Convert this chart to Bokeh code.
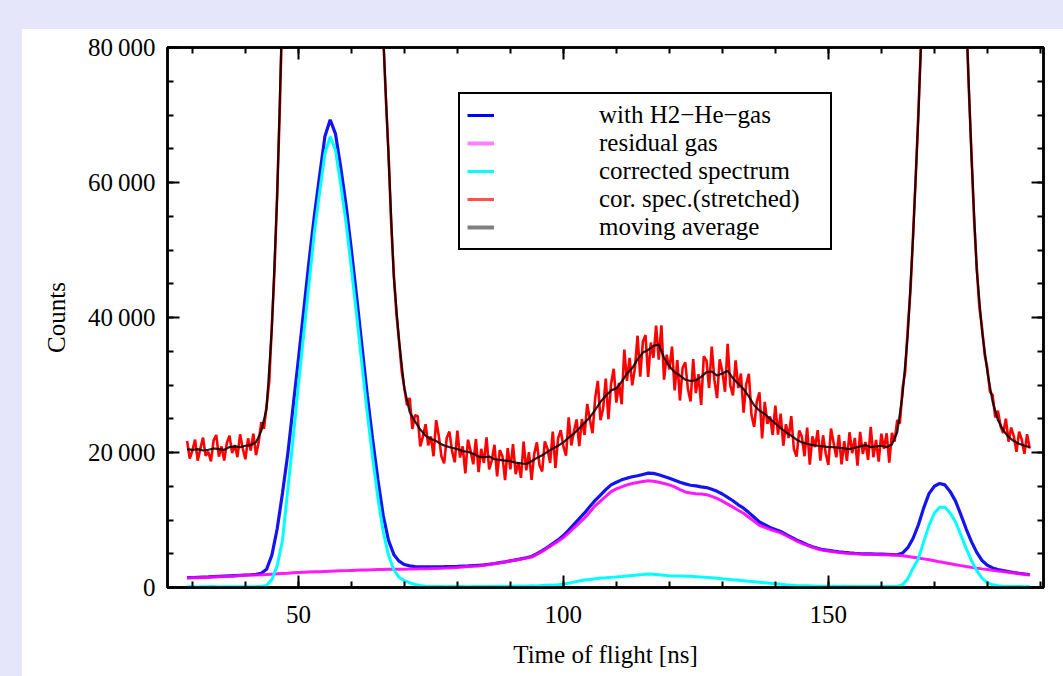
import numpy as np
from bokeh.plotting import figure
from bokeh.models import (Range1d, LinearAxis, SingleIntervalTicker, Legend,
                          LegendItem, Div)
from bokeh.layouts import column, row
from bokeh.embed import file_html
from bokeh.resources import INLINE

# ---------------- data ----------------
t_smooth = np.arange(29, 189, 1.0)          # time of flight [ns], 1 ns steps

blue = [1450, 1480, 1510, 1540, 1570, 1610, 1650, 1690, 1730, 1770, 1810, 1850, 1890,
        1950, 2100, 2700, 4800, 8700, 14000, 19800,
        26800, 33800, 41000, 48300, 55000, 61000, 66800, 69300, 67200, 62200,
        56600, 50000, 43000, 35700, 28500, 22000, 16000, 10700, 7000, 4900,
        3900, 3400, 3200, 3100, 3050, 3050, 3050, 3050, 3050, 3080,
        3100, 3130, 3170, 3200, 3250, 3300, 3350, 3450, 3550, 3680,
        3800, 3950, 4100, 4250, 4400, 4600, 5000, 5450, 5950, 6500,
        7050, 7700, 8500, 9350, 10200, 11050, 12000, 12900, 13700, 14500,
        15200, 15600, 15950, 16200, 16400, 16550, 16750, 16950, 16900, 16700,
        16450, 16200, 15900, 15600, 15350, 15150, 15050, 14900, 14800, 14550,
        14250, 13850, 13350, 12850, 12250, 11750, 11100, 10400, 9700, 9300,
        8900, 8600, 8300, 7850, 7450, 7050, 6700, 6350, 6050, 5800,
        5600, 5500, 5380, 5280, 5200, 5130, 5070, 5020, 4990, 4970,
        4950, 4930, 4910, 4880, 4850, 5100, 5900, 7300, 9300, 11800,
        13900, 15000, 15400, 15200, 14200, 12800, 10800, 8700, 6800, 5200,
        4000, 3300, 2900, 2650, 2500, 2350, 2220, 2100, 2000, 1900]

magenta = [1400, 1430, 1460, 1490, 1520, 1560, 1600, 1640, 1680, 1720, 1760, 1800, 1840,
           1870, 1900, 1940, 1980, 2020, 2070, 2120,
           2200, 2230, 2260, 2290, 2320, 2350, 2380, 2410, 2440, 2470,
           2500, 2530, 2560, 2590, 2610, 2630, 2650, 2670, 2690, 2700,
           2710, 2720, 2730, 2750, 2770, 2790, 2800, 2820, 2840, 2880,
           2930, 2980, 3040, 3100, 3150, 3200, 3300, 3400, 3520, 3650,
           3780, 3920, 4060, 4200, 4350, 4500, 4900, 5350, 5850, 6350,
           6850, 7400, 8100, 8850, 9550, 10300, 11200, 12100, 12800, 13500,
           14200, 14600, 14900, 15200, 15400, 15550, 15700, 15800, 15750, 15600,
           15400, 15200, 14900, 14500, 14150, 14000, 13900, 13850, 13750, 13500,
           13200, 12800, 12350, 11900, 11450, 11000, 10400, 9800, 9200, 8900,
           8600, 8350, 8100, 7700, 7300, 6900, 6550, 6250, 5950, 5700,
           5500, 5400, 5300, 5200, 5120, 5050, 5000, 4950, 4920, 4900,
           4880, 4860, 4840, 4810, 4780, 4700, 4600, 4480, 4360, 4240,
           4100, 3950, 3800, 3660, 3520, 3380, 3240, 3100, 2980, 2870,
           2760, 2660, 2560, 2460, 2380, 2260, 2150, 2050, 1950, 1850]

cyan = [100, 120, 90, 110, 100, 130, 90, 110, 100, 120, 100, 110, 120,
        130, 150, 300, 1200, 3200, 7000, 14500,
        22000, 30000, 37500, 45000, 52500, 58500, 64300, 66800, 64800, 59600,
        54000, 47300, 40300, 33000, 25800, 19300, 13300, 8300, 4800, 2600,
        1500, 1000, 700, 450, 300, 200, 150, 130, 150, 120,
        140, 130, 150, 120, 140, 150, 130, 160, 140, 170,
        150, 200, 180, 220, 200, 250, 230, 280, 320, 350,
        420, 500, 650, 800, 950, 1100, 1200, 1300, 1420, 1450,
        1500, 1550, 1620, 1700, 1780, 1850, 1920, 2000, 1950, 1900,
        1820, 1750, 1720, 1700, 1680, 1650, 1600, 1550, 1500, 1450,
        1380, 1300, 1230, 1150, 1080, 1000, 920, 850, 780, 700,
        620, 550, 480, 400, 350, 300, 270, 250, 220, 200,
        190, 180, 170, 160, 170, 150, 160, 150, 140, 150,
        140, 150, 130, 150, 150, 400, 1300, 2900, 4300, 6800,
        9200, 11000, 11900, 11900, 11000, 9700, 7800, 5800, 4000, 2500,
        1400, 700, 400, 250, 180, 150, 130, 140, 120, 130]

moving_avg = [20500, 20400, 20500, 20300, 20400, 20600, 20500, 20400, 20800, 20900, 20800, 21000, 21100,
              21500, 23200, 26500, 38500, 58000, 87000, 125000,
              150000, 150000, 150000, 150000, 150000, 150000, 150000, 150000, 150000, 150000,
              150000, 150000, 150000, 150000, 150000, 150000, 110000, 82000, 64000, 46000,
              36500, 29500, 26000, 24600, 23400, 22500, 22000, 21700, 21200, 20900,
              20700, 20500, 20200, 20100, 19800, 19400, 19300, 19400, 19000, 18900,
              18800, 18700, 18500, 18400, 18300, 18700, 19200, 19600, 20100, 20600,
              21000, 21500, 22200, 22800, 23600, 24400, 25200, 26300, 27500, 28400,
              29200, 29500, 30500, 31700, 32500, 33800, 34800, 35200, 35800, 36000,
              34000, 32800, 31900, 31400, 30800, 30600, 30700, 31200, 31900, 32000,
              31400, 31700, 32100, 31000, 30200, 29400, 28300, 27000, 26200, 25700,
              25000, 24300, 23600, 23000, 22500, 21900, 21500, 21300, 21100, 21000,
              20900, 20800, 20800, 20700, 20600, 20500, 20700, 20900, 21100, 20800,
              20900, 21000, 20800, 21200, 23000, 28500, 37500, 52000, 70000, 92000,
              120000, 150000, 150000, 150000, 150000, 150000, 150000, 85000, 64000, 47000,
              38000, 32000, 27500, 24800, 23300, 22300, 21700, 21300, 21000, 20800]

t_red = np.arange(29.0, 188.25, 0.5)        # 0.5 ns steps
red = [21700, 19100, 20300, 21900, 18800, 20600, 22200, 19500, 20100, 18700,
       21800, 22600, 19400, 20900, 18800, 21400, 22500, 19900, 21100, 19300,
       22700, 20600, 19000, 22100, 20300, 22800, 19600, 21500,
       24500, 23500, 27000, 30500, 39000, 47000, 58500, 71000, 87000, 105000,
       125000, 150000, 180000, 215000, 250000, 290000, 330000, 370000, 410000, 450000,
       490000, 520000, 545000, 560000, 565000, 560000, 545000, 520000, 490000, 455000,
       420000, 385000, 350000, 315000, 280000, 250000, 220000, 195000, 175000, 155000,
       140000, 128000, 115000, 105000,
       96000, 89000, 82000, 72500, 64500, 54000, 46500, 40500, 36500, 32000, 29500, 27000,
       28100, 23500, 25500, 25400, 20900, 22350, 24200, 21050, 22400, 19450,
       24800, 22400, 19400, 18400, 22200, 23100, 20200, 18550, 23250, 19250,
       20900, 16900, 21900, 20200, 18250, 22000, 17100, 20550, 18450, 22250,
       17500, 18850, 21150, 16450, 20350, 19450, 15900, 20650, 17500, 21250,
       16800, 18550, 16250, 21600, 17350, 20050, 15950, 19800, 21500, 18100,
       17200, 21650, 20600, 18450, 23100, 17700, 22100, 23300, 20900, 19550,
       25200, 21050, 23150, 24900, 20950, 24950, 22600, 27200,
       24900, 22850, 28050, 30600, 24800, 26500, 30950, 24950, 30150, 32400,
       27400, 30300, 27150, 35250, 30600, 34000, 29950, 32500, 37300, 31250,
       36400, 37400, 31200, 36300, 34050, 38800, 33750, 38850, 30800, 34500,
       32300, 35700, 29200, 33700, 27700, 32550, 33350, 29400, 27550, 33850,
       28800, 31600, 27050, 34250, 33650, 29550, 35700, 30750, 28050, 33800,
       32000, 29000, 36100, 29950, 28450, 33650, 29550, 31700, 25900, 30100,
       31650, 25550, 23800, 27550, 28900, 22100,
       27500, 24250, 25350, 22600, 26950, 22650, 25750, 21000, 24200, 22150,
       25400, 20500, 19400, 23250, 22350, 19450, 23700, 18200, 22400, 20800,
       23300, 18800, 22550, 19900, 18150, 23550, 21400, 19300, 22600, 18250,
       21700, 18750, 23000, 19900, 22150, 18050, 23050, 19800, 21550, 18900,
       23800, 19300, 21850, 18650, 22800, 20550, 22850, 18500, 22900, 21600,
       24800, 24300, 29500, 32000, 38500, 44000, 52500, 61000, 70500, 81000, 93000, 110000,
       140000, 180000, 230000, 280000, 320000, 340000, 345000, 330000, 300000, 260000,
       210000, 165000, 130000, 105000,
       85500, 74000, 64500, 54500, 47500, 41500, 38500, 34500, 32500, 29000,
       28500, 25200, 26200, 23900, 22900, 25000, 21600, 23700, 22400, 20100,
       23100, 21900, 19800, 22700, 20600]

x_range_ns = (25.3, 190.6)
y_range_counts = (0, 80000)
ytick_values = [0, 20000, 40000, 60000, 80000]
ytick_labels = ["0", "20\u2009000", "40\u2009000", "60\u2009000", "80\u2009000"]
legend_labels = ["with H2\u2212He\u2212gas", "residual gas", "corrected spectrum",
                 "cor. spec.(stretched)", "moving average"]

# ---------------- figure ----------------
SERIF = "Liberation Serif"
FS = "25px"

p = figure(width=1041, height=647, output_backend="svg", toolbar_location=None,
           x_range=Range1d(*x_range_ns), y_range=Range1d(*y_range_counts),
           min_border_left=145, min_border_right=20, min_border_top=18,
           min_border_bottom=89, background_fill_color="white",
           border_fill_color="white")
p.grid.visible = False
p.outline_line_color = "black"
p.outline_line_width = 2.5

xt = SingleIntervalTicker(interval=50, num_minor_ticks=5)
yt = SingleIntervalTicker(interval=20000, num_minor_ticks=4)


def style_axis(ax, labels=True):
    ax.axis_line_color = "black"
    ax.axis_line_width = 2.5
    ax.major_tick_in = 12
    ax.major_tick_out = 0
    ax.minor_tick_in = 6
    ax.minor_tick_out = 0
    ax.major_tick_line_width = 2
    ax.minor_tick_line_width = 2
    ax.major_tick_line_color = "black"
    ax.minor_tick_line_color = "black"
    ax.major_label_text_font = SERIF
    ax.axis_label_text_font = SERIF
    ax.axis_label_text_font_size = FS
    ax.axis_label_text_font_style = "normal"
    ax.axis_label_text_color = "black"
    if labels:
        ax.major_label_text_font_size = FS
        ax.major_label_text_color = "black"
    else:
        ax.major_label_text_font_size = "1px"
        ax.major_label_text_color = None
        ax.major_label_standoff = 0


p.xaxis.ticker = xt
p.yaxis.ticker = yt
style_axis(p.xaxis[0])
style_axis(p.yaxis[0])
p.xaxis.axis_label = "Time of flight [ns]"
p.yaxis.axis_label = "Counts"
p.xaxis.major_label_standoff = 18
p.xaxis.axis_label_standoff = 15
p.yaxis.major_label_standoff = 12
p.yaxis.axis_label_standoff = 15
p.yaxis.major_label_overrides = dict(zip(ytick_values, ytick_labels))

top_ax = LinearAxis(ticker=xt)
right_ax = LinearAxis(ticker=yt)
style_axis(top_ax, labels=False)
style_axis(right_ax, labels=False)
p.add_layout(top_ax, "above")
p.add_layout(right_ax, "right")

# ---------------- curves ----------------
p.line(t_smooth, blue, line_color="#1414f0", line_width=3.2)
p.line(t_smooth, magenta, line_color="#ff00ff", line_width=3, line_alpha=0.9)
p.line(t_smooth, cyan, line_color="#00ffff", line_width=3)
p.line(t_red, red, line_color="#ff0000", line_width=2.6, line_alpha=1.0)
p.line(t_smooth, moving_avg, line_color="black", line_width=2.2, line_alpha=0.85)

# legend entries (one-point renderers: they draw nothing in the plot)
lg_styles = [("#0000ff", 3), ("#ff80ff", 4), ("#00ffff", 3), ("#ff5050", 3), ("#808080", 4)]
items = []
for lab, (col, lw) in zip(legend_labels, lg_styles):
    r = p.line(x=[t_smooth[0]], y=[blue[0]], line_color=col, line_width=lw)
    items.append(LegendItem(label=lab, renderers=[r]))

legend = Legend(items=items, location=(291, 337), label_text_font=SERIF,
                label_text_font_size=FS, label_text_color="black",
                glyph_width=27, glyph_height=28, label_height=28,
                label_standoff=105, label_width=224, padding=7, spacing=0,
                margin=0, border_line_color="black", border_line_width=2,
                border_line_alpha=1.0,
                background_fill_color="white", background_fill_alpha=1.0)
p.add_layout(legend)

# ---------------- page layout (lavender strips) ----------------
LAV = "#e6e6fa"
top_strip = Div(text="", width=1063, height=29, margin=0,
                styles={"background-color": LAV})
left_strip = Div(text="", width=22, height=647, margin=0,
                 styles={"background-color": LAV})
layout = column(top_strip, row(left_strip, p, spacing=0), spacing=0)

open("out.html", "w").write(file_html(layout, INLINE))
